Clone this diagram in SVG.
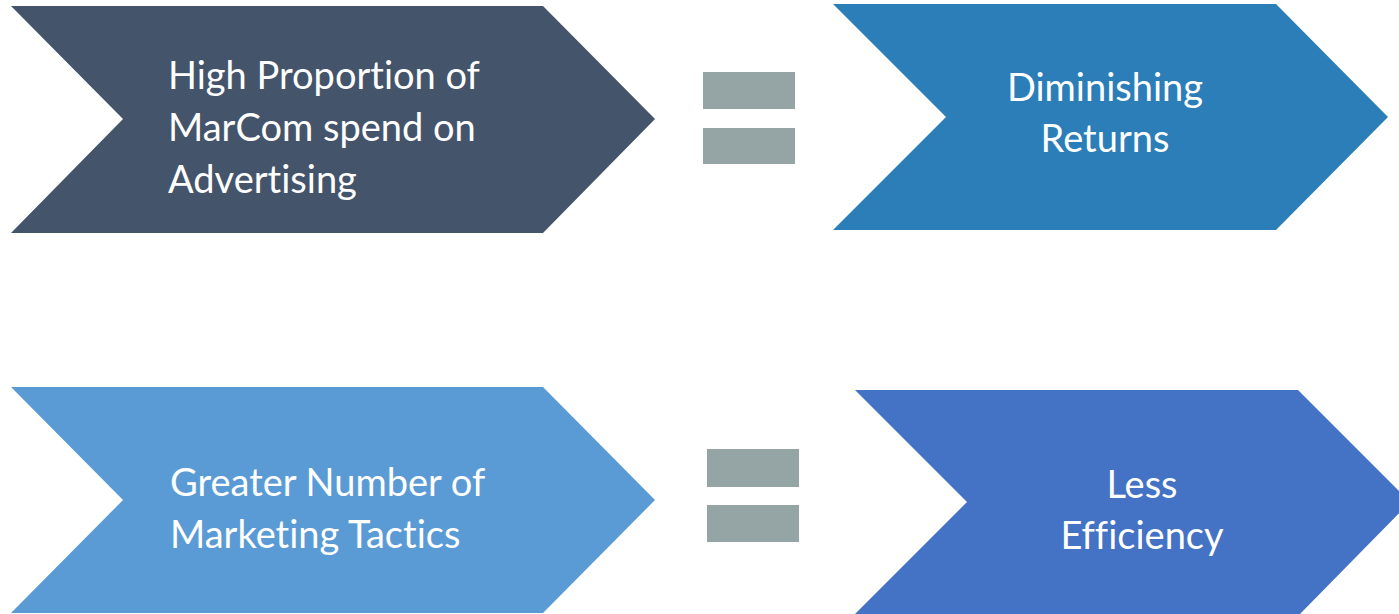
<svg xmlns="http://www.w3.org/2000/svg" width="1399" height="614" viewBox="0 0 1399 614">
  <style>
    .lbl { font-family: Lato, "Open Sans", sans-serif; font-size: 38px; fill: #FFFFFF; font-variant-ligatures: none; }
    .mid { text-anchor: middle; }
    .eq { fill: #95A5A6; }
  </style>
  <rect width="1399" height="614" fill="#FFFFFF"/>
  <g id="node-proportion">
    <polygon points="11,6 543,6 655,119 543,233 11,233 123,119" fill="#44546A"/>
    <text class="lbl" x="168" y="89">High Proportion of</text>
    <text class="lbl" x="168" y="141">MarCom spend on</text>
    <text class="lbl" x="168" y="193">Advertising</text>
  </g>
  <g id="node-returns">
    <polygon points="833,4 1276,4 1388,117 1276,230 833,230 946,117" fill="#2B7EB8"/>
    <text class="lbl mid" x="1105" y="101">Diminishing</text>
    <text class="lbl mid" x="1105" y="152">Returns</text>
  </g>
  <g id="node-tactics">
    <polygon points="11,387 543,387 655,500 543,613 11,613 123,500" fill="#5B9BD5"/>
    <text class="lbl" x="170" y="496">Greater Number of</text>
    <text class="lbl" x="170" y="548">Marketing Tactics</text>
  </g>
  <g id="node-efficiency">
    <polygon points="855,390 1298,390 1410,502 1300,614 855,614 967,502" fill="#4472C4"/>
    <text class="lbl mid" x="1142" y="498">Less</text>
    <text class="lbl mid" x="1142" y="549">Efficiency</text>
  </g>
  <g id="connectors">
    <rect class="eq" x="703" y="72" width="92" height="37"/>
    <rect class="eq" x="703" y="128" width="92" height="36"/>
    <rect class="eq" x="707" y="449" width="92" height="38"/>
    <rect class="eq" x="707" y="505" width="92" height="37"/>
  </g>
</svg>
